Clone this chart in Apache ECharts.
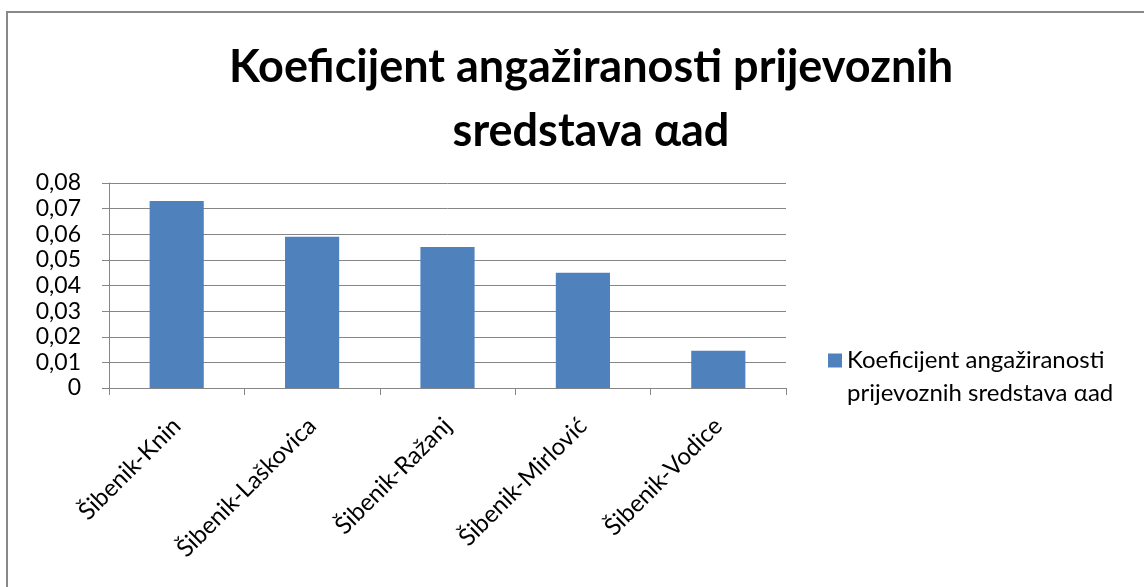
<!DOCTYPE html>
<html>
<head>
<meta charset="utf-8">
<script src="https://cdn.jsdelivr.net/npm/echarts@6/dist/echarts.min.js"></script>
<style>
  html, body { margin: 0; padding: 0; background: #fff; }
  #chart { width: 1144px; height: 587px; }
</style>
</head>
<body>
<div id="chart"></div>
<script>
// Route names along the x axis
const routes = ['Šibenik-Knin', 'Šibenik-Laškovica', 'Šibenik-Ražanj', 'Šibenik-Mirlović', 'Šibenik-Vodice'];
// Utilisation coefficient per route
const coefficients = [0.073, 0.059, 0.055, 0.045, 0.0145];
// Y axis range and step
const yTicks = [0, 0.01, 0.02, 0.03, 0.04, 0.05, 0.06, 0.07, 0.08];
const seriesName = 'Koeficijent angažiranosti\nprijevoznih sredstava αad';
const titleText = 'Koeficijent angažiranosti prijevoznih\nsredstava αad';

const FONT = 'Lato, "Open Sans", sans-serif';
const chart = echarts.init(document.getElementById('chart'), null, { renderer: 'canvas' });

chart.setOption({
  backgroundColor: '#ffffff',
  animation: false,
  title: {
    text: titleText,
    left: 586,
    textAlign: 'center',
    top: 30,
    textStyle: {
      fontFamily: FONT,
      fontWeight: 'bold',
      fontSize: 45,
      lineHeight: 64,
      color: '#000'
    }
  },
  legend: {
    left: 828,
    top: 311,
    itemWidth: 14,
    itemHeight: 14,
    itemGap: 0,
    padding: 0,
    icon: 'rect',
    // leading blank line keeps the marker level with the first text line
    formatter: name => '\n' + name,
    textStyle: {
      fontFamily: FONT,
      fontSize: 24,
      lineHeight: 33,
      color: '#000'
    },
    data: [seriesName]
  },
  grid: {
    left: 109,
    right: 358,
    top: 183,
    bottom: 199,
    containLabel: false
  },
  xAxis: {
    type: 'category',
    data: routes,
    axisLine: { lineStyle: { color: '#868686', width: 1 } },
    axisTick: { show: true, alignWithLabel: false, length: 7, lineStyle: { color: '#868686' } },
    axisLabel: {
      rotate: 45,
      interval: 0,
      margin: 34,
      fontFamily: FONT,
      fontSize: 24,
      color: '#000'
    }
  },
  yAxis: {
    type: 'value',
    min: yTicks[0],
    max: yTicks[yTicks.length - 1],
    interval: 0.01,
    axisLine: { show: true, lineStyle: { color: '#868686', width: 1 } },
    axisTick: { show: true, length: 7, lineStyle: { color: '#868686' } },
    splitLine: { show: true, lineStyle: { color: '#868686', width: 1 } },
    axisLabel: {
      margin: 28,
      fontFamily: FONT,
      fontSize: 23,
      color: '#000',
      formatter: v => (v === 0 ? '0' : v.toFixed(2).replace('.', ','))
    }
  },
  series: [{
    name: seriesName,
    type: 'bar',
    data: coefficients,
    barCategoryGap: '60%',
    itemStyle: { color: '#4F81BD' }
  }],
  graphic: [{
    type: 'rect',
    silent: true,
    z: -1,
    shape: { x: 7, y: 12, width: 1150, height: 600 },
    style: { fill: 'none', stroke: '#898989', lineWidth: 2 }
  }]
});
</script>
</body>
</html>
